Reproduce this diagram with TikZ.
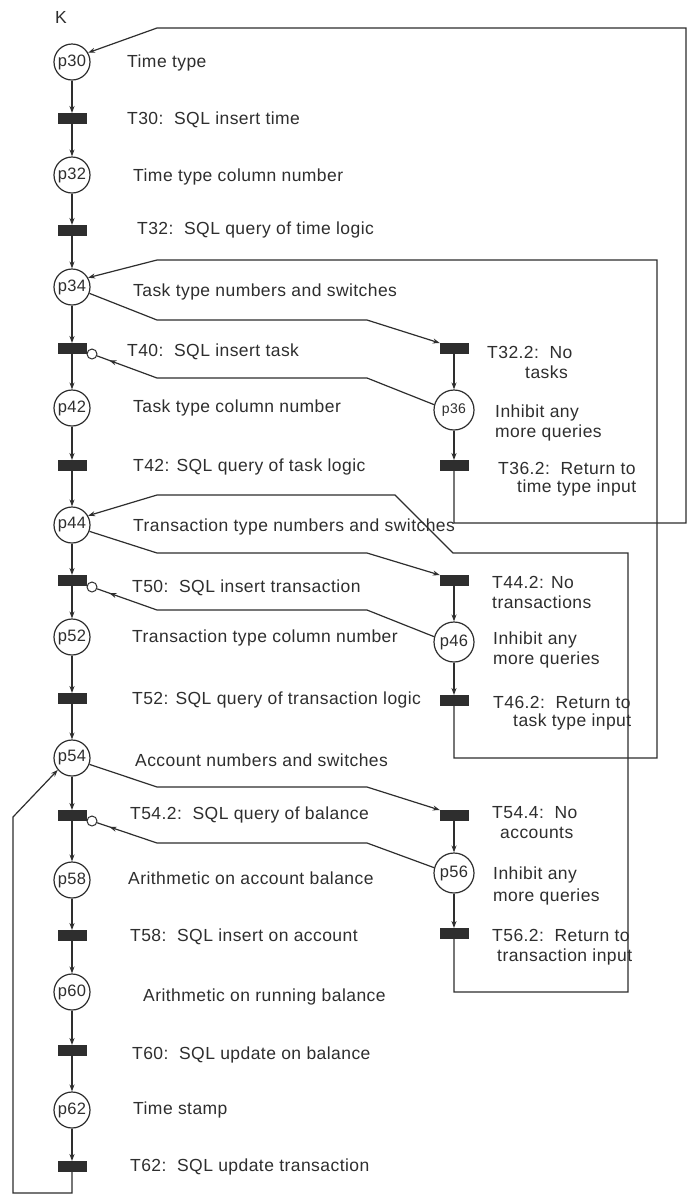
\documentclass[tikz,border=0pt]{standalone}
\usepackage{fontspec}
\setmainfont{Liberation Sans}[LetterSpace=2.5]
\usetikzlibrary{arrows.meta,decorations.markings}
\definecolor{ink}{HTML}{2E2E2E}
\begin{document}
\begin{tikzpicture}[x=1pt,y=-1pt,
  place/.style={draw=ink,line width=1.2pt,circle,minimum size=36pt,inner sep=0pt,
    text=ink,font=\fontsize{16.5}{16.5}\selectfont,fill=white},
  rplace/.style={place,minimum size=40pt},
  trans/.style={draw=ink,fill=ink,minimum width=28pt,minimum height=9.5pt,inner sep=0pt},
  inhib/.style={draw=ink,line width=1pt,circle,minimum size=10pt,inner sep=0pt,fill=white},
  lbl/.style={anchor=west,inner sep=0pt,text=ink,font=\fontsize{17.5}{20}\selectfont},
  arc/.style={draw=ink,line width=1.2pt,-{Stealth[length=7pt,width=5pt]}},
  inharc/.style={draw=ink,line width=1.2pt,postaction={decorate},
    decoration={markings,mark=at position -13pt with {\arrow{Stealth[length=7pt,width=5pt]}}}},
]
\useasboundingbox (0,0) rectangle (696,1195);
\fill[white] (0,0) rectangle (696,1195);

% main column of places and transitions
\node[lbl] (k) at (55,17) {K};
\node[place] (p30) at (72,62) {p30};
\node[trans] (t30) at (72,118) {};
\node[place] (p32) at (72,175) {p32};
\node[trans] (t32) at (72,230) {};
\node[place] (p34) at (72,287) {p34};
\node[trans] (t40) at (72,348) {};
\node[place] (p42) at (72,408) {p42};
\node[trans] (t42) at (72,465) {};
\node[place] (p44) at (72,525) {p44};
\node[trans] (t50) at (72,580) {};
\node[place] (p52) at (72,637) {p52};
\node[trans] (t52) at (72,698) {};
\node[place] (p54) at (72,758) {p54};
\node[trans] (t542) at (72,815) {};
\node[place] (p58) at (72,880) {p58};
\node[trans] (t58) at (72,935) {};
\node[place] (p60) at (72,992) {p60};
\node[trans] (t60) at (72,1050) {};
\node[place] (p62) at (72,1110) {p62};
\node[trans] (t62) at (72,1166) {};

% inhibitor heads on the main-column transitions
\node[inhib] (i40) at (92,354) {};
\node[inhib] (i50) at (92,587) {};
\node[inhib] (i542) at (92,821) {};

% side branches
\node[trans] (t322) at (454,348) {};
\node[rplace,font=\fontsize{14}{14}\selectfont] (p36) at (454,410) {p36};
\node[trans] (t362) at (454,465) {};
\node[trans] (t442) at (454,580) {};
\node[rplace] (p46) at (454,642) {p46};
\node[trans] (t462) at (454,700) {};
\node[trans] (t544) at (454,815) {};
\node[rplace] (p56) at (454,873) {p56};
\node[trans] (t562) at (454,933) {};

% loop corners
\coordinate (a1) at (454,523);
\coordinate (a2) at (686,523);
\coordinate (a3) at (686,28);
\coordinate (a4) at (157,28);
\coordinate (b1) at (454,758);
\coordinate (b2) at (657,758);
\coordinate (b3) at (657,260);
\coordinate (b4) at (157,260);
\coordinate (c1) at (454,992);
\coordinate (c2) at (628,992);
\coordinate (c3) at (628,553);
\coordinate (c4) at (453,553);
\coordinate (c5) at (395,495);
\coordinate (c6) at (157,495);
\coordinate (d1) at (72,1193);
\coordinate (d2) at (13,1193);
\coordinate (d3) at (13,817);

% main column arcs
\foreach \u/\v in {p30/t30,t30/p32,p32/t32,t32/p34,p34/t40,t40/p42,p42/t42,t42/p44,
  p44/t50,t50/p52,p52/t52,t52/p54,p54/t542,t542/p58,p58/t58,t58/p60,p60/t60,t60/p62,p62/t62,
  t322/p36,p36/t362,t442/p46,p46/t462,t544/p56,p56/t562}
  \draw[arc] (\u) -- (\v);

% branches to the "no more" transitions
\draw[arc] (p34.-20) -- (157,320) -- (367,320) -- (t322.north west);
\draw[arc] (p44.-20) -- (157,553) -- (367,553) -- (t442.north west);
\draw[arc] (p54.-20) -- (157,787) -- (367,787) -- (t544.north west);

% inhibitor arcs
\draw[inharc] (p36.165) -- (367,378) -- (157,378) -- (i40);
\draw[inharc] (p46.165) -- (367,610) -- (157,610) -- (i50);
\draw[inharc] (p56.165) -- (367,843) -- (157,843) -- (i542);

% return loops
\draw[arc] (t362) -- (a1) -- (a2) -- (a3) -- (a4) -- (p30.30);
\draw[arc] (t462) -- (b1) -- (b2) -- (b3) -- (b4) -- (p34.30);
\draw[arc] (t562) -- (c1) -- (c2) -- (c3) -- (c4) -- (c5) -- (c6) -- (p44.30);
\draw[arc] (t62) -- (d1) -- (d2) -- (d3) -- (p54.220);

% redraw transitions above the wires
\foreach \t in {t30,t32,t40,t42,t50,t52,t542,t58,t60,t62,t322,t362,t442,t462,t544,t562}
  \node[trans] at (\t) {};

% descriptions, main column
\node[lbl] (l1) at (127,63) {Time type};
\node[lbl] (l2) at (127,120) {T30:\ \ SQL insert time};
\node[lbl] (l3) at (133,177) {Time type column number};
\node[lbl] (l4) at (137,230) {T32:\ \ SQL query of time logic};
\node[lbl] (l5) at (133,292) {Task type numbers and switches};
\node[lbl] (l6) at (127,352) {T40:\ \ SQL insert task};
\node[lbl] (l7) at (133,408) {Task type column number};
\node[lbl] (l8) at (133,467) {T42: SQL query of task logic};
\node[lbl] (l9) at (133,527) {Transaction type numbers and switches};
\node[lbl] (l10) at (132,588) {T50:\ \ SQL insert transaction};
\node[lbl] (l11) at (132,638) {Transaction type column number};
\node[lbl] (l12) at (132,700) {T52: SQL query of transaction logic};
\node[lbl] (l13) at (135,760) {Account numbers and switches};
\node[lbl] (l14) at (130,815) {T54.2:\ \ SQL query of balance};
\node[lbl] (l15) at (128,878) {Arithmetic on account balance};
\node[lbl] (l16) at (130,937) {T58:\ \ SQL insert on account};
\node[lbl] (l17) at (143,997) {Arithmetic on running balance};
\node[lbl] (l18) at (132,1055) {T60:\ \ SQL update on balance};
\node[lbl] (l19) at (133,1110) {Time stamp};
\node[lbl] (l20) at (130,1167) {T62:\ \ SQL update transaction};

% descriptions, side branches
\node[lbl] (r1) at (487,352) {T32.2:\ \ No};
\node[lbl] (r2) at (525,372) {tasks};
\node[lbl] (r3) at (495,413) {Inhibit any};
\node[lbl] (r4) at (495,433) {more queries};
\node[lbl] (r5) at (498,468) {T36.2:\ \ Return to};
\node[lbl] (r6) at (517,488) {time type input};
\node[lbl] (r7) at (492,582) {T44.2: No};
\node[lbl] (r8) at (492,602) {transactions};
\node[lbl] (r9) at (493,640) {Inhibit any};
\node[lbl] (r10) at (493,660) {more queries};
\node[lbl] (r11) at (493,702) {T46.2:\ \ Return to};
\node[lbl] (r12) at (513,722) {task type input};
\node[lbl] (r13) at (492,813) {T54.4:\ \ No};
\node[lbl] (r14) at (500,833) {accounts};
\node[lbl] (r15) at (493,875) {Inhibit any};
\node[lbl] (r16) at (493,897) {more queries};
\node[lbl] (r17) at (492,935) {T56.2:\ \ Return to};
\node[lbl] (r18) at (497,957) {transaction input};
\end{tikzpicture}
\end{document}
